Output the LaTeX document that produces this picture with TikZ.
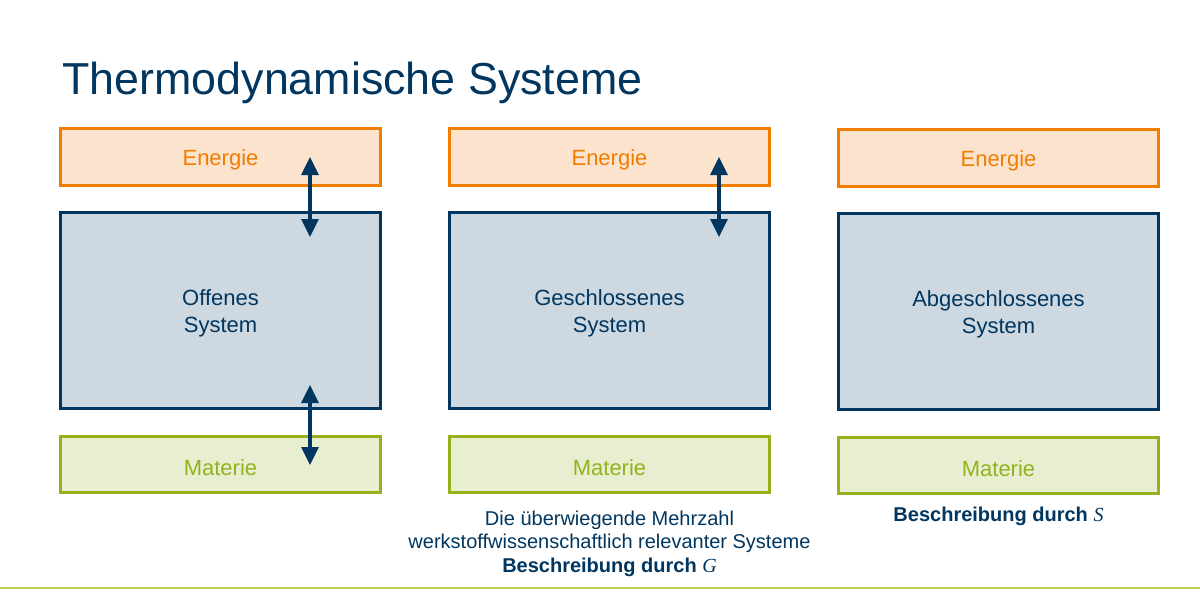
\documentclass[tikz,border=0pt]{standalone}
\usepackage{fontspec}
\setmainfont{Liberation Sans}
\newfontfamily\mathitfont{Liberation Serif}
\usetikzlibrary{arrows.meta}
\definecolor{tblue}{HTML}{00365F}
\definecolor{eorange}{HTML}{F07D00}
\definecolor{efill}{HTML}{FCE3CE}
\definecolor{sfill}{HTML}{CDD8E1}
\definecolor{mgreen}{HTML}{95B21C}
\definecolor{mfill}{HTML}{E8EFD0}
\definecolor{lgreen}{HTML}{B8CE55}
\newcommand\boxstrut{\rule{0pt}{11pt}}
\begin{document}
\begin{tikzpicture}[x=0.5pt,y=-0.5pt,
  boxbase/.style={rectangle, inner sep=0pt, line width=1.5pt, minimum width=160pt, align=center, font=\fontsize{11}{13.5}\selectfont},
  energybox/.style={boxbase, draw=eorange, fill=efill, text=eorange, minimum height=28.5pt},
  systembox/.style={boxbase, draw=tblue, fill=sfill, text=tblue, minimum height=98pt},
  materiebox/.style={boxbase, draw=mgreen, fill=mfill, text=mgreen, minimum height=28pt},
  exchange/.style={draw=tblue, line width=1.6pt, {Triangle[width=8.5pt,length=9pt]}-{Triangle[width=8.5pt,length=9pt]}},
  note/.style={text=tblue, align=center, inner sep=0pt, font=\fontsize{10}{11.75}\selectfont}
]
\useasboundingbox (0,0) rectangle (1200,600);
\fill[white] (0,0) rectangle (1200,600);

\node[anchor=base west, inner sep=0pt, text=tblue, font=\fontsize{22.4}{26}\selectfont] (title) at (62,94) {Thermodynamische Systeme};

% column 1
\node[energybox] (e1) at (220.5,157) {\boxstrut Energie};
\node[systembox] (s1) at (220.5,310.5) {\boxstrut Offenes\\System};
\node[materiebox] (m1) at (220.5,464.5) {\boxstrut Materie};
% column 2
\node[energybox] (e2) at (609.5,157) {\boxstrut Energie};
\node[systembox] (s2) at (609.5,310.5) {\boxstrut Geschlossenes\\System};
\node[materiebox] (m2) at (609.5,464.5) {\boxstrut Materie};
% column 3
\node[energybox] (e3) at (998.5,158) {\boxstrut Energie};
\node[systembox] (s3) at (998.5,311.5) {\boxstrut Abgeschlossenes\\System};
\node[materiebox] (m3) at (998.5,465.5) {\boxstrut Materie};

% exchange arrows
\coordinate (a1t) at (310,157);
\coordinate (a1b) at (310,237);
\coordinate (a2t) at (310,385);
\coordinate (a2b) at (310,465);
\coordinate (a3t) at (719,157);
\coordinate (a3b) at (719,237);
\draw[exchange] (a1t) -- (a1b);
\draw[exchange] (a2t) -- (a2b);
\draw[exchange] (a3t) -- (a3b);

% notes
\node[note, anchor=north] (n2) at (609.5,510.5) {Die überwiegende Mehrzahl\\werkstoffwissenschaftlich relevanter Systeme\\\textbf{Beschreibung durch} {\mathitfont\itshape G}};
\node[note, anchor=base] (n3) at (998.5,521) {\textbf{Beschreibung durch} {\mathitfont\itshape S}};

% bottom line
\coordinate (l1) at (0,588);
\coordinate (l2) at (1200,588);
\draw[lgreen, line width=0.8pt] (l1) -- (l2);
\end{tikzpicture}
\end{document}
